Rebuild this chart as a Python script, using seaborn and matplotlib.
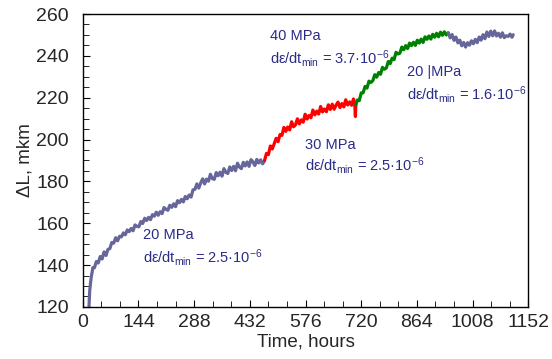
import matplotlib
matplotlib.use("Agg")
import matplotlib.pyplot as plt
import seaborn as sns
import pandas as pd
from matplotlib.ticker import MultipleLocator

# creep curve (hours, delta L in mkm)
hours_20a = [16, 17, 18, 20, 22, 24, 26, 30, 35, 40, 45, 50, 55, 60, 65, 70, 75, 80, 85, 90,
             95, 100, 105, 110, 115, 120, 125, 130, 135, 140, 145, 150, 155, 160, 165, 170,
             175, 180, 185, 190, 195, 200, 205, 210, 215, 220, 225, 230, 235, 240, 245, 250,
             255, 260, 265, 270, 275, 280, 285, 290, 295, 300, 305, 310, 315, 320, 325, 330,
             335, 340, 345, 350, 355, 360, 365, 370, 375, 380, 385, 390, 395, 400, 405, 410,
             415, 420, 425, 430, 435, 440, 445, 450, 455, 460, 465, 470]
dl_20a = [120.0, 124.5, 128.0, 131.5, 134.5, 136.5, 138.8, 138.7, 141.7, 141.0, 144.1, 142.9,
          146.3, 144.6, 147.5, 147.9, 150.8, 150.5, 153.1, 151.6, 153.8, 153.5, 155.4, 154.5,
          156.8, 156.0, 157.5, 156.4, 159.2, 158.5, 158.3, 160.8, 159.9, 162.4, 161.3, 162.8,
          161.7, 164.1, 163.4, 165.3, 163.8, 165.5, 164.6, 167.5, 166.7, 166.2, 168.6, 167.6,
          169.3, 167.9, 170.8, 169.8, 171.4, 170.2, 172.8, 171.7, 173.5, 172.5, 176.0, 176.2,
          178.8, 176.8, 179.3, 181.2, 178.8, 181.1, 180.1, 183.4, 181.3, 181.0, 184.2, 182.7,
          184.4, 182.5, 186.1, 184.3, 183.8, 186.9, 185.2, 187.2, 185.1, 188.7, 186.9, 186.1,
          189.1, 187.4, 189.3, 187.2, 190.4, 189.3, 187.6, 190.5, 188.8, 190.3, 188.4, 189.8]

hours_30 = [470, 475, 480, 485, 490, 495, 500, 505, 510, 515, 520, 525, 530, 535, 540, 545,
            550, 555, 560, 565, 570, 575, 580, 585, 590, 595, 600, 605, 610, 615, 620, 625,
            630, 635, 640, 645, 650, 655, 660, 665, 670, 675, 680, 685, 690, 695, 700, 703,
            705, 706]
dl_30 = [190.0, 193.4, 192.8, 196.9, 195.5, 198.0, 200.6, 199.0, 202.4, 202.0, 205.8, 203.9,
         206.0, 204.6, 208.5, 206.1, 207.0, 209.9, 207.5, 209.4, 208.3, 212.1, 209.8, 211.5,
         210.4, 214.1, 211.8, 213.6, 212.2, 215.8, 213.2, 214.6, 213.3, 216.6, 214.4, 216.9,
         214.5, 216.4, 217.9, 215.3, 217.2, 215.6, 219.0, 216.5, 218.0, 216.4, 219.4, 217.6,
         211.0, 216.5]

hours_40 = [706, 710, 715, 720, 725, 730, 735, 740, 745, 750, 755, 760, 765, 770, 775, 780,
            785, 790, 795, 800, 805, 810, 815, 820, 825, 830, 835, 840, 845, 850, 855, 860,
            865, 870, 875, 880, 885, 890, 895, 900, 905, 910, 915, 920, 925, 930, 935, 940, 945]
dl_40 = [216.5, 218.9, 218.6, 222.3, 222.4, 225.4, 224.6, 227.9, 227.3, 228.1, 231.0, 229.8,
         232.0, 231.2, 234.5, 233.6, 234.2, 237.3, 236.3, 238.9, 238.2, 241.7, 240.9, 241.3,
         244.2, 242.9, 244.9, 243.5, 246.1, 244.9, 246.5, 245.0, 247.5, 246.1, 248.0, 246.4,
         249.1, 247.9, 249.5, 248.0, 250.3, 248.9, 250.8, 249.1, 251.3, 249.8, 251.5, 250.0,
         251.0]

hours_20b = [945, 950, 955, 960, 965, 970, 975, 980, 985, 990, 995, 1000, 1005, 1010, 1015,
             1020, 1025, 1030, 1035, 1040, 1045, 1050, 1055, 1060, 1065, 1070, 1075, 1080,
             1085, 1090, 1095, 1100, 1105, 1110, 1113]
dl_20b = [251.0, 248.6, 250.2, 247.4, 249.0, 246.2, 247.5, 244.8, 246.4, 244.2, 246.3, 245.1,
          247.2, 245.8, 247.9, 246.3, 249.0, 247.5, 250.1, 248.2, 251.4, 249.3, 251.8, 249.6,
          251.9, 249.5, 250.8, 248.9, 251.0, 248.7, 249.6, 249.3, 250.4, 248.9, 250.1]

x_ticks = [0, 144, 288, 432, 576, 720, 864, 1008, 1152]
y_ticks = [120, 140, 160, 180, 200, 220, 240, 260]

sns.set_style("ticks")
plt.rcParams["font.family"] = ["Liberation Sans", "DejaVu Sans"]
plt.rcParams["mathtext.fontset"] = "custom"
plt.rcParams["mathtext.rm"] = "Liberation Sans"
plt.rcParams["mathtext.it"] = "Liberation Sans:italic"

fig = plt.figure(figsize=(5.52, 3.59), dpi=100)
ax = fig.add_axes([0.150, 0.145, 0.807, 0.816])

segments = [(hours_20a, dl_20a, "#66669A"), (hours_30, dl_30, "#FF0000"),
            (hours_40, dl_40, "#008000"), (hours_20b, dl_20b, "#66669A")]
for hrs, vals, col in segments:
    seg = pd.DataFrame({"t": hrs, "dl": vals})
    sns.lineplot(data=seg, x="t", y="dl", color=col, lw=2.3, sort=False,
                 estimator=None, ax=ax)

ax.set_xlim(0, 1152)
ax.set_ylim(120, 260)
ax.set_xticks(x_ticks)
ax.set_yticks(y_ticks)
ax.xaxis.set_minor_locator(MultipleLocator(48))
ax.yaxis.set_minor_locator(MultipleLocator(5))
ax.tick_params(which="both", direction="in", labelsize=14, color="black")
ax.tick_params(axis="y", pad=10)
ax.tick_params(axis="x", pad=5)
ax.tick_params(which="major", length=5)
ax.tick_params(which="minor", length=4)
ax.set_xlabel("Time, hours", fontsize=13.5, labelpad=2)
ax.set_ylabel("ΔL, mkm", fontsize=13.5, labelpad=2)
for s in ax.spines.values():
    s.set_color("black")
    s.set_linewidth(1.0)

txt = "#2B2B88"
notes = [(143, 235, "20 MPa"), (143, 258, "dε/dt$_\\mathregular{min}$ = 2.5·10$^\\mathregular{-6}$"),
         (305, 145, "30 MPa"), (305, 166, "dε/dt$_\\mathregular{min}$ = 2.5·10$^\\mathregular{-6}$"),
         (270, 36, "40 MPa"), (270, 58, "dε/dt$_\\mathregular{min}$ = 3.7·10$^\\mathregular{-6}$"),
         (407, 72, "20 |MPa"), (407, 94, "dε/dt$_\\mathregular{min}$ = 1.6·10$^\\mathregular{-6}$")]
for px, py, s in notes:
    fig.text(px / 552, 1 - py / 359, s, color=txt, fontsize=10.5, ha="left", va="center")

fig.savefig("out.png", dpi=100)
